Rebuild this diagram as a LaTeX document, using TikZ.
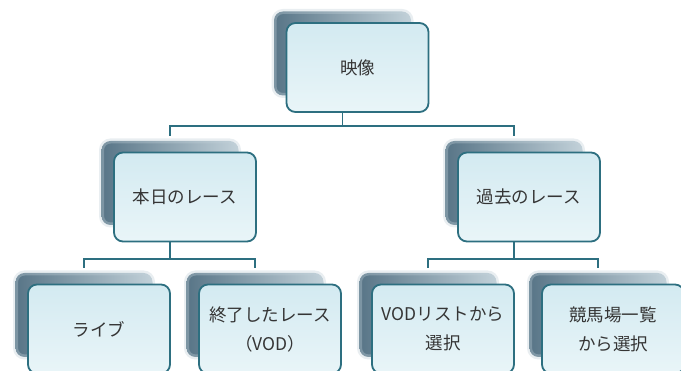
\documentclass[tikz,border=0pt]{standalone}
\usepackage{fontspec}
\newfontfamily\jpfont{Noto Sans CJK JP}

\definecolor{edgeteal}{HTML}{2D6F80}
\definecolor{boxtop}{HTML}{D3EAF1}
\definecolor{boxbottom}{HTML}{E9F5F8}
\definecolor{shadedark}{HTML}{587587}
\definecolor{shadelight}{HTML}{C2D1D9}
\definecolor{textgray}{HTML}{353535}

\begin{document}
\begin{tikzpicture}[x=1pt, y=1pt,
  box/.style={draw=edgeteal, line width=1.8pt, rounded corners=9pt,
    top color=boxtop, bottom color=boxbottom,
    minimum width=142pt, minimum height=89pt, align=center,
    text=textgray, font=\jpfont\fontsize{17.5}{29}\selectfont},
  boxshade/.style={rounded corners=9pt, left color=shadedark, right color=shadelight,
    draw=shadelight, line width=5pt, draw opacity=0.35,
    minimum width=137pt, minimum height=84pt, inner sep=0pt},
  link/.style={draw=edgeteal, line width=1.8pt}
]

% Canvas
\fill[white] (0,0) rectangle (681,371);
\useasboundingbox (0,0) rectangle (681,371);

% Top level
\node[boxshade] (video-s) at (342.5, 317.5) {};
\node[box] (video) at (357.5, 303.5) {映像};

% Second level
\node[boxshade] (today-s) at (170, 188) {};
\node[box] (today) at (185, 174) {本日のレース};

\node[boxshade] (past-s) at (514, 188) {};
\node[box] (past) at (529, 174) {過去のレース};

% Third level
\node[boxshade] (live-s) at (84, 56) {};
\node[box] (live) at (99, 42) {ライブ};

\node[boxshade] (ended-s) at (255, 56) {};
\node[box] (ended) at (270, 42) {終了したレース\\（VOD）};

\node[boxshade] (vodlist-s) at (428, 56) {};
\node[box] (vodlist) at (443, 42) {VODリストから\\選択};

\node[boxshade] (tracks-s) at (598, 56) {};
\node[box] (tracks) at (613, 42) {競馬場一覧\\から選択};

% Connectors
\draw[link] (video.south -| video-s) -- ++(0,-13) coordinate (jtop);
\draw[link] (jtop) -| ([yshift=2.5pt]today-s.north);
\draw[link] (jtop) -| ([yshift=2.5pt]past-s.north);

\draw[link] (today.south -| today-s) -- ++(0,-16.5) coordinate (jleft);
\draw[link] (jleft) -| ([yshift=2.5pt]live-s.north);
\draw[link] (jleft) -| ([yshift=2.5pt]ended-s.north);

\draw[link] (past.south -| past-s) -- ++(0,-16.5) coordinate (jright);
\draw[link] (jright) -| ([yshift=2.5pt]vodlist-s.north);
\draw[link] (jright) -| ([yshift=2.5pt]tracks-s.north);

\end{tikzpicture}
\end{document}
